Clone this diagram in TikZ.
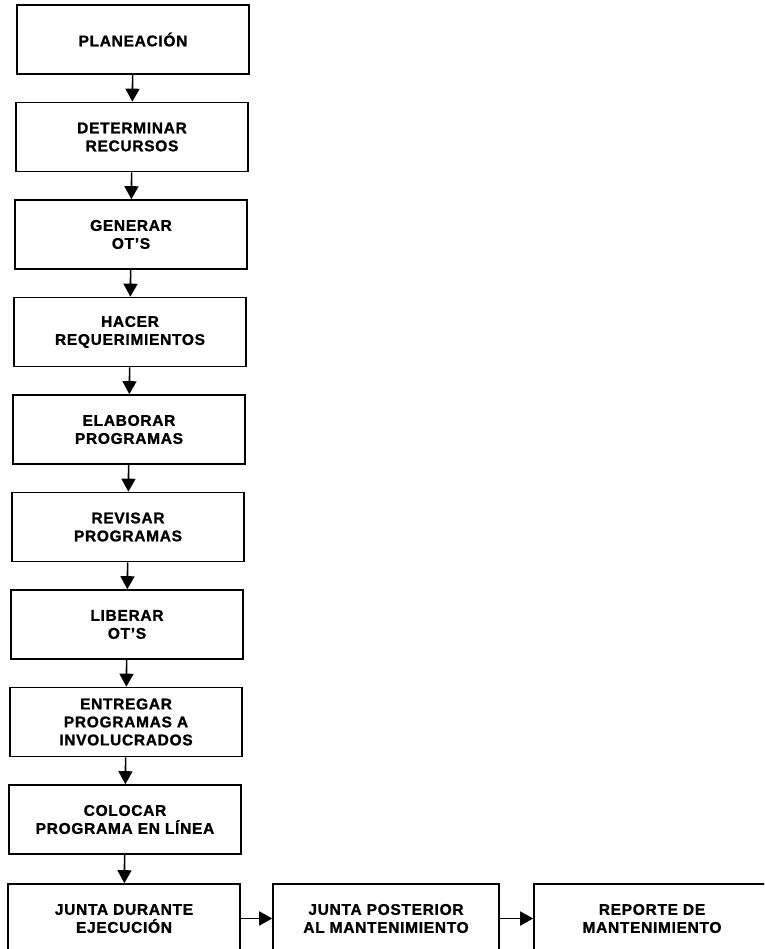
\documentclass[tikz,border=0pt]{standalone}
\usepackage{fontspec}
\setmainfont{Liberation Sans}[LetterSpace=4.5, BoldFeatures={FakeBold=1.2}]
\usetikzlibrary{arrows.meta}
\begin{document}
\begin{tikzpicture}[x=1pt, y=1pt,
    paso/.style={draw, line width=1.6pt, minimum width=232pt, minimum height=69pt,
      inner sep=0pt, align=center, font=\bfseries\fontsize{15.5}{18}\selectfont},
    flecha/.style={line width=1.6pt, -{Triangle[width=14pt,length=13pt]}}]
      \clip (0,0) rectangle (764,-949);
      %
      \node[paso] (plan)  at (133,-39.5) {PLANEACIÓN};                 % column
      \node[paso] (recur) at (132,-137)  {DETERMINAR\\RECURSOS};
      \node[paso] (gen)   at (131,-234.5){GENERAR\\OT'S};
      \node[paso] (req)   at (130,-332)  {HACER\\REQUERIMIENTOS};
      \node[paso] (elab)  at (129,-429.5){ELABORAR\\PROGRAMAS};
      \node[paso] (rev)   at (128,-527)  {REVISAR\\PROGRAMAS};
      \node[paso] (lib)   at (127,-624.5){LIBERAR\\OT'S};
      \node[paso] (entr)  at (126,-722)  {ENTREGAR\\PROGRAMAS A\\INVOLUCRADOS};
      \node[paso] (linea) at (125,-819.5){COLOCAR\\PROGRAMA EN LÍNEA};
      %
      \node[paso] (jdur)  at (124,-918.5){JUNTA DURANTE\\EJECUCIÓN};    % bottom row
      \node[paso, minimum width=226pt] (jpost) at (386,-918.5){JUNTA POSTERIOR\\AL MANTENIMIENTO};
      \node[paso, minimum width=236pt] (rep)   at (652,-918.5){REPORTE DE\\MANTENIMIENTO};
      %
      \draw[flecha] (plan)  -- (recur);                                % arrows down
      \draw[flecha] (recur) -- (gen);
      \draw[flecha] (gen)   -- (req);
      \draw[flecha] (req)   -- (elab);
      \draw[flecha] (elab)  -- (rev);
      \draw[flecha] (rev)   -- (lib);
      \draw[flecha] (lib)   -- (entr);
      \draw[flecha] (entr)  -- (linea);
      \draw[flecha] (linea) -- (jdur);
      %
      \draw[flecha] (jdur)  -- (jpost);                                % arrows right
      \draw[flecha] (jpost) -- (rep);
      %
    \end{tikzpicture}
\end{document}
